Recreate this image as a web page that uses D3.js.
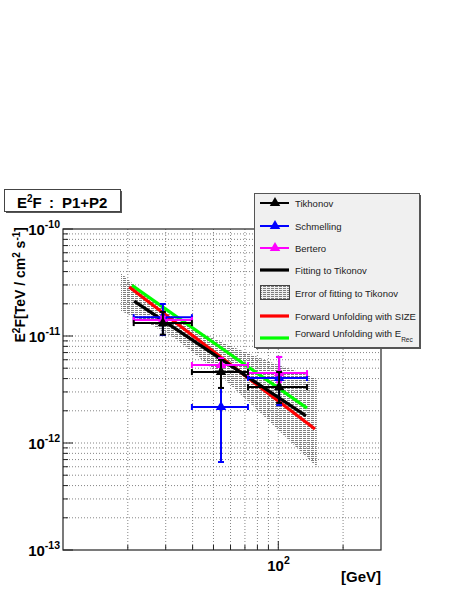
<!DOCTYPE html>
<html><head><meta charset="utf-8">
<script src="https://cdn.jsdelivr.net/npm/d3@7"></script>
<style>body{margin:0;background:#fff}svg{display:block}text{font-family:"Liberation Sans",Arial,Helvetica,sans-serif}</style>
</head><body><svg id="c" width="457" height="591"></svg>
<script>
// ---- data ----
const binCenters = [29.1, 54.2, 100.9];
const binLow     = [21.3, 39.7, 72.3];
const binHigh    = [39.7, 72.3, 136];
const tikhonov   = [1.32e-11, 4.6e-12, 3.33e-12];
const tikhonovLo = [1.03e-11, 3.27e-12, 2.37e-12];
const tikhonovHi = [1.68e-11, 5.97e-12, 4.61e-12];
const schmelling   = [1.5e-11, 2.17e-12, 4.05e-12];
const schmellingLo = [1.02e-11, 6.64e-13, 2.26e-12];
const schmellingHi = [1.99e-11, 4.6e-12, 6.37e-12];
const bertero   = [1.41e-11, 5.36e-12, 4.5e-12];
const berteroLo = [1.3e-11, 4.6e-12, 3.7e-12];
const berteroHi = [1.52e-11, 6.2e-12, 6.37e-12];
const fitE  = [21.4, 134.5];  const fitV  = [2.12e-11, 1.79e-12];
const sizeE = [20.3, 148];    const sizeV = [2.87e-11, 1.35e-12];
const erecE = [20.9, 136];    const erecV = [2.97e-11, 2.12e-12];
const bandE  = [18.6, 25, 33, 45, 60, 80, 100, 125, 151];
const bandUp = [3.88e-11, 2.26e-11, 1.47e-11, 1.045e-11, 8.07e-12, 6.37e-12, 5.36e-12, 4.61e-12, 3.96e-12];
const bandLo = [1.71e-11, 1.31e-11, 9.6e-12, 5.84e-12, 3.49e-12, 2.03e-12, 1.32e-12, 8.6e-13, 5.97e-13];
const xGridValues = [20, 30, 40, 50, 60, 70, 80, 90, 100, 200];
const xTickLabels = [{v: 100, base: "10", exp: "2"}];
const yTickLabels = [{v: 1e-10, base: "10", exp: "-10"}, {v: 1e-11, base: "10", exp: "-11"},
                     {v: 1e-12, base: "10", exp: "-12"}, {v: 1e-13, base: "10", exp: "-13"}];
const legendLabels = ["Tikhonov", "Schmelling", "Bertero", "Fitting to Tikonov",
                      "Error of fitting to Tikonov", "Forward Unfolding with SIZE", "Forward Unfolding with E"];

// ---- layout ----
const svg = d3.select("#c");
const L = 63, R = 381, T = 229, B = 550;
const x = d3.scaleLog().domain([10, 300]).range([L, R]);
const y = d3.scaleLog().domain([1e-13, 1e-10]).range([B, T]);

const defs = svg.append("defs");
const pat = defs.append("pattern").attr("id", "hatch").attr("patternUnits", "userSpaceOnUse")
  .attr("width", 4).attr("height", 2);
pat.append("line").attr("x1", 0).attr("x2", 4).attr("y1", 0.5).attr("y2", 0.5)
  .attr("stroke", "#707070").attr("stroke-width", 0.9).attr("stroke-dasharray", "2,1");
const clip = defs.append("clipPath").attr("id", "frame");
clip.append("rect").attr("x", L).attr("y", T).attr("width", R - L).attr("height", B - T);

// grid
const g = svg.append("g");
const yMinor = [];
for (let e = -13; e < -10; e++) for (let k = 1; k <= 9; k++) yMinor.push(k * Math.pow(10, e));
g.selectAll(".gy").data(yMinor.slice(1)).join("line")
  .attr("x1", L).attr("x2", R).attr("y1", d => y(d)).attr("y2", d => y(d))
  .attr("stroke", "#666").attr("stroke-width", 0.8).attr("stroke-dasharray", "1,2");
g.selectAll(".gx").data(xGridValues).join("line")
  .attr("y1", T).attr("y2", B).attr("x1", d => x(d)).attr("x2", d => x(d))
  .attr("stroke", "#666").attr("stroke-width", 0.8).attr("stroke-dasharray", "1,2");

// ticks
g.selectAll(".ty").data(yMinor.concat([1e-10])).join("line")
  .attr("x1", L).attr("x2", d => (Math.abs(Math.log10(d) - Math.round(Math.log10(d))) < 1e-6) ? L + 10 : L + 5)
  .attr("y1", d => y(d)).attr("y2", d => y(d)).attr("stroke", "#222").attr("stroke-width", 1);
g.selectAll(".tx").data(xGridValues).join("line")
  .attr("x1", d => x(d)).attr("x2", d => x(d)).attr("y1", B).attr("y2", d => d === 100 ? B - 9 : B - 5)
  .attr("stroke", "#222").attr("stroke-width", 1);

// band
const plot = svg.append("g").attr("clip-path", "url(#frame)");
const bandData = bandE.map((e, i) => ({e, up: bandUp[i], lo: bandLo[i]}));
plot.append("path").datum(bandData)
  .attr("d", d3.area().x(d => x(d.e)).y0(d => y(d.lo)).y1(d => y(d.up)))
  .attr("fill", "url(#hatch)");

// lines
const lineGen = d3.line().x(d => x(d[0])).y(d => y(d[1]));
function drawLine(E, V, color) {
  plot.append("path").datum(E.map((e, i) => [e, V[i]])).attr("d", lineGen)
    .attr("stroke", color).attr("stroke-width", 3.2).attr("fill", "none");
}
drawLine(erecE, erecV, "#00ff00");
drawLine(sizeE, sizeV, "#ff0000");
drawLine(fitE, fitV, "#000000");

// points
const tri = d3.symbol().type(d3.symbolTriangle).size(48);
function drawSeries(vals, lo, hi, color) {
  const s = plot.append("g");
  vals.forEach((v, i) => {
    const cx = x(binCenters[i]), cy = y(v);
    const x0 = x(binLow[i]), x1 = x(binHigh[i]);
    const y0 = y(lo[i]), y1 = y(hi[i]);
    const st = sel => sel.attr("stroke", color).attr("stroke-width", 2);
    st(s.append("line").attr("x1", x0).attr("x2", x1).attr("y1", cy).attr("y2", cy));
    st(s.append("line").attr("x1", cx).attr("x2", cx).attr("y1", y0).attr("y2", y1));
    st(s.append("line").attr("x1", x0).attr("x2", x0).attr("y1", cy - 3).attr("y2", cy + 3));
    st(s.append("line").attr("x1", x1).attr("x2", x1).attr("y1", cy - 3).attr("y2", cy + 3));
    st(s.append("line").attr("x1", cx - 3).attr("x2", cx + 3).attr("y1", y0).attr("y2", y0));
    st(s.append("line").attr("x1", cx - 3).attr("x2", cx + 3).attr("y1", y1).attr("y2", y1));
    s.append("path").attr("d", tri).attr("transform", `translate(${cx},${cy})`).attr("fill", color);
  });
}
drawSeries(schmelling, schmellingLo, schmellingHi, "#0000ff");
drawSeries(bertero, berteroLo, berteroHi, "#ff00ff");
drawSeries(tikhonov, tikhonovLo, tikhonovHi, "#000000");

// frame
svg.append("rect").attr("x", L).attr("y", T).attr("width", R - L).attr("height", B - T)
  .attr("fill", "none").attr("stroke", "#222").attr("stroke-width", 1.2);

// tick labels
yTickLabels.forEach(t => {
  const tx = svg.append("text").attr("x", 60).attr("y", y(t.v) + 6).attr("text-anchor", "end")
    .attr("font-size", 15).attr("font-weight", "bold");
  tx.append("tspan").text(t.base);
  tx.append("tspan").attr("dy", -7).attr("font-size", 10.5).text(t.exp);
});
xTickLabels.forEach(t => {
  const tx = svg.append("text").attr("x", x(t.v) - 11).attr("y", B + 21)
    .attr("font-size", 15).attr("font-weight", "bold");
  tx.append("tspan").text(t.base);
  tx.append("tspan").attr("dy", -7).attr("font-size", 10.5).text(t.exp);
});

// axis titles
svg.append("text").attr("x", R).attr("y", 582).attr("text-anchor", "end")
  .attr("font-size", 15).attr("font-weight", "bold").text("[GeV]");
const yt = svg.append("text").attr("transform", "translate(25,227) rotate(-90)")
  .attr("text-anchor", "end").attr("font-size", 14).attr("font-weight", "bold");
yt.append("tspan").text("E");
yt.append("tspan").attr("dy", -5.5).attr("font-size", 10).text("2");
yt.append("tspan").attr("dy", 5.5).text("F[TeV / cm");
yt.append("tspan").attr("dy", -5.5).attr("font-size", 10).text("2");
yt.append("tspan").attr("dy", 5.5).text(" s");
yt.append("tspan").attr("dy", -5.5).attr("font-size", 10).text("-1");
yt.append("tspan").attr("dy", 5.5).text("]");

// title box
svg.append("rect").attr("x", 6).attr("y", 191).attr("width", 116).attr("height", 22).attr("fill", "#555");
svg.append("rect").attr("x", 4.5).attr("y", 189.5).attr("width", 116).attr("height", 22)
  .attr("fill", "#fff").attr("stroke", "#444").attr("stroke-width", 1);
const tt = svg.append("text").attr("x", 17).attr("y", 208).attr("font-size", 15).attr("font-weight", "bold");
tt.append("tspan").text("E");
tt.append("tspan").attr("dy", -6).attr("font-size", 10).text("2");
tt.append("tspan").attr("dy", 6).text("F");
svg.append("text").attr("x", 49).attr("y", 208).attr("font-size", 15).attr("font-weight", "bold").text(":");
svg.append("text").attr("x", 62).attr("y", 208).attr("font-size", 15).attr("font-weight", "bold").text("P1+P2");

// legend
const lg = svg.append("g");
lg.append("rect").attr("x", 256).attr("y", 195).attr("width", 165).attr("height", 154).attr("fill", "#555");
lg.append("rect").attr("x", 254.5).attr("y", 193.5).attr("width", 165).attr("height", 154)
  .attr("fill", "#f0f0f0").attr("stroke", "#555").attr("stroke-width", 1);
const ly = [203, 226, 248, 270, 293, 316, 338];
const lcolors = ["#000", "#0000ff", "#ff00ff", "#000", null, "#ff0000", "#00ff00"];
legendLabels.forEach((lab, i) => {
  const cy = ly[i];
  if (i < 3) {
    lg.append("line").attr("x1", 260).attr("x2", 289).attr("y1", cy).attr("y2", cy)
      .attr("stroke", lcolors[i]).attr("stroke-width", 2);
    lg.append("path").attr("d", tri).attr("transform", `translate(275,${cy})`).attr("fill", lcolors[i]);
  } else if (i === 4) {
    lg.append("rect").attr("x", 260.5).attr("y", cy - 7.5).attr("width", 29).attr("height", 14)
      .attr("fill", "url(#hatch)").attr("stroke", "#444").attr("stroke-width", 1);
  } else {
    lg.append("line").attr("x1", 260).attr("x2", 289).attr("y1", cy).attr("y2", cy)
      .attr("stroke", lcolors[i]).attr("stroke-width", 3.2);
  }
  const t = lg.append("text").attr("x", 295).attr("y", cy + (i === 6 ? -1 : 3.5))
    .attr("font-size", 9.5).attr("fill", "#222").text(lab);
  if (i === 6) t.append("tspan").attr("dy", 5).attr("font-size", 6.5).text("Rec");
});
</script></body></html>
